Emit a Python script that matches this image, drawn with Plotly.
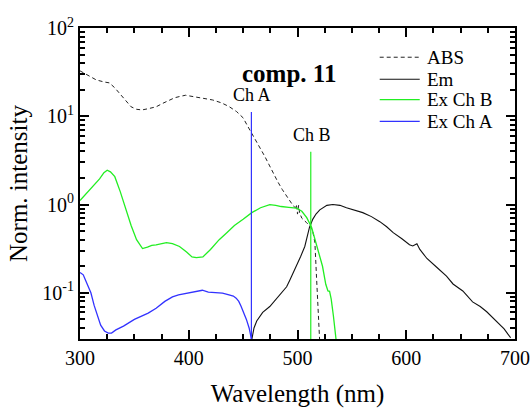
import math
import plotly.graph_objects as go

# ---- data ----
abs_wl = [300, 307, 315, 322, 327, 332, 336, 341, 347, 352, 357, 363, 370, 376, 382, 387, 392, 397,
          403, 410, 416, 422, 430, 437, 444, 450, 454, 458, 462, 466, 470, 474, 478, 482, 486, 490,
          493, 496, 498, 499, 500, 501, 502, 504, 508, 512, 514, 516, 517.5, 519, 520.5, 521]
abs_val = [32.7, 29.5, 25.8, 24.5, 23.9, 21.0, 18.5, 15.5, 12.8, 12.0, 11.8, 12.2, 12.8, 14.0, 15.3, 16.2, 16.8, 17.3,
           16.8, 16.3, 15.8, 15.3, 14.2, 12.9, 11.3, 9.6, 7.8, 6.4, 5.4, 4.4, 3.5, 2.8, 2.2, 1.8, 1.48, 1.25,
           1.08, 0.97, 0.92, 1.0, 0.78, 0.98, 0.8, 0.7, 0.63, 0.56, 0.5, 0.37, 0.15, 0.06, 0.03, 0.02]

em_wl = [457.6, 460, 462.5, 468, 474.5, 482, 490, 493, 499, 503, 506.7, 509, 511, 514, 517, 520.5, 524, 527,
         532.5, 539, 545, 551, 560, 568, 575.7, 582, 588, 596, 603, 606, 609.8, 612.5, 619, 628, 637, 643,
         652, 661, 668, 674, 680, 686, 690, 693.5, 696]
em_val = [0.028, 0.04, 0.048, 0.06, 0.07, 0.09, 0.117, 0.14, 0.2, 0.26, 0.335, 0.43, 0.55, 0.68, 0.78, 0.87, 0.94, 0.98,
          1.0, 0.98, 0.92, 0.87, 0.81, 0.73, 0.64, 0.56, 0.48, 0.41, 0.35, 0.34, 0.36, 0.31, 0.245, 0.195, 0.155, 0.126,
          0.105, 0.079, 0.07, 0.061, 0.052, 0.044, 0.039, 0.034, 0.031]

exb_wl = [300, 305, 311.5, 318, 322, 325, 328, 332, 337, 343, 347, 352, 357.5, 362, 366, 370, 375, 379.5, 385,
          391.5, 398, 403, 407, 413, 420, 428, 435, 442, 450, 458, 466, 474.5, 480, 485, 492, 499, 504, 508.5,
          513, 518.6, 523, 526, 528, 529.5, 531, 533, 535.5, 537]
exb_val = [1.11, 1.3, 1.58, 1.95, 2.3, 2.45, 2.35, 2.07, 1.4, 0.81, 0.58, 0.40, 0.317, 0.33, 0.345, 0.35, 0.36, 0.37, 0.36,
           0.335, 0.29, 0.255, 0.25, 0.255, 0.31, 0.40, 0.48, 0.58, 0.68, 0.81, 0.92, 1.0, 0.98, 0.95, 0.93, 0.91, 0.84, 0.71,
           0.55, 0.31, 0.2, 0.125, 0.105, 0.104, 0.085, 0.055, 0.03, 0.02]

exa_wl = [300, 303, 305, 307.5, 310, 313, 316, 319, 322.5, 326, 329, 333, 340, 350, 362.7, 370, 378, 385, 390.6,
          400, 406, 412.5, 418, 424.7, 431, 437, 441, 443.6, 446, 448, 450.5, 453, 455.5, 457.6, 459, 460]
exa_val = [0.17, 0.16, 0.14, 0.12, 0.10, 0.072, 0.054, 0.043, 0.037, 0.035, 0.035, 0.038, 0.042, 0.05, 0.059, 0.067,
           0.08, 0.09, 0.095, 0.1, 0.102, 0.107, 0.102, 0.1, 0.099, 0.095, 0.092, 0.087, 0.08, 0.071, 0.06, 0.05,
           0.04, 0.031, 0.025, 0.02]

channel_names = ["Ch A", "Ch B"]
channel_wl = [457.6, 512.2]
channel_top = [11.2, 3.97]
y_floor = 0.02

legend_names = ["ABS", "Em", "Ex Ch B", "Ex Ch A"]

x_ticks = [300, 400, 500, 600, 700]
y_ticks = [0.1, 1, 10, 100]
y_tick_text = ["10<sup>-1</sup>", "10<sup>0</sup>", "10<sup>1</sup>", "10<sup>2</sup>"]
y_minor = [m * 10 ** e for e in (-2, -1, 0, 1) for m in range(2, 10)]

BLUE = "#3232ff"
GREEN = "#22ee22"
FONT = "Liberation Serif"

styles = [
    dict(color="#222222", width=1, dash="4px,3px"),
    dict(color="#111111", width=1.1),
    dict(color=GREEN, width=1.3),
    dict(color=BLUE, width=1.3),
]
series = [(abs_wl, abs_val), (em_wl, em_val), (exb_wl, exb_val), (exa_wl, exa_val)]

fig = go.Figure()
for name, (xs, ys), st in zip(legend_names, series, styles):
    fig.add_trace(go.Scatter(x=xs, y=ys, mode="lines", name=name, line=st, showlegend=False))

for name, wl, top, col in zip(channel_names, channel_wl, channel_top, [BLUE, GREEN]):
    fig.add_trace(go.Scatter(x=[wl, wl], y=[y_floor, top], mode="lines", showlegend=False,
                             line=dict(color=col, width=1.2), hoverinfo="skip"))
    # annotation y on a log axis is given in log10 units
    fig.add_annotation(x=wl, y=math.log10(top), yref="y", xref="x", text=name, showarrow=False,
                       yanchor="bottom", yshift=5, xshift=1,
                       font=dict(family=FONT, size=18, color="black"))

fig.add_annotation(x=0.481, y=0.905, xref="paper", yref="paper", text="<b>comp. 11</b>",
                   showarrow=False, font=dict(family=FONT, size=25, color="black"))

# hand-placed legend box (paper coordinates)
leg_x0, leg_x1, leg_tx = 0.689, 0.781, 0.792
leg_rows = [0.906, 0.835, 0.770, 0.700]
for name, st, ry in zip(legend_names, styles, leg_rows):
    dash = st.get("dash", "solid")
    fig.add_shape(type="line", xref="paper", yref="paper", x0=leg_x0, x1=leg_x1, y0=ry, y1=ry,
                  line=dict(color=st["color"], width=st["width"], dash=dash))
    fig.add_annotation(x=leg_tx, y=ry, xref="paper", yref="paper", text=name, showarrow=False,
                       xanchor="left", yanchor="middle", font=dict(family=FONT, size=19, color="black"))

fig.update_layout(
    width=531, height=408,
    margin=dict(l=80, r=16, t=28, b=69),
    paper_bgcolor="white", plot_bgcolor="white",
    font=dict(family=FONT, color="black"),
    showlegend=False,
)
fig.update_xaxes(
    range=[300, 700], tickvals=x_ticks, ticks="inside", ticklen=9, tickwidth=2, tickcolor="black",
    showline=True, linewidth=2, linecolor="black", mirror="ticks", showgrid=False, zeroline=False,
    tickfont=dict(family=FONT, size=20), automargin=False,
    minor=dict(ticks="inside", ticklen=5, tickwidth=2, tickcolor="black", dtick=25, showgrid=False),
    title=dict(text="Wavelength (nm)", font=dict(family=FONT, size=25), standoff=19),
)
fig.update_yaxes(
    type="log", range=[-1.523, 2.0], tickvals=y_ticks, ticktext=y_tick_text,
    ticks="inside", ticklen=9, tickwidth=2, tickcolor="black",
    showline=True, linewidth=2, linecolor="black", mirror="ticks", showgrid=False, zeroline=False,
    tickfont=dict(family=FONT, size=20), automargin=False,
    minor=dict(ticks="inside", ticklen=5, tickwidth=2, tickcolor="black", tickvals=y_minor, showgrid=False),
    title=dict(text="Norm. intensity", font=dict(family=FONT, size=25), standoff=8),
)

fig.write_html("out.html", config={"displayModeBar": False},
               post_script="document.body.style.margin='0';document.body.style.overflow='hidden';")
